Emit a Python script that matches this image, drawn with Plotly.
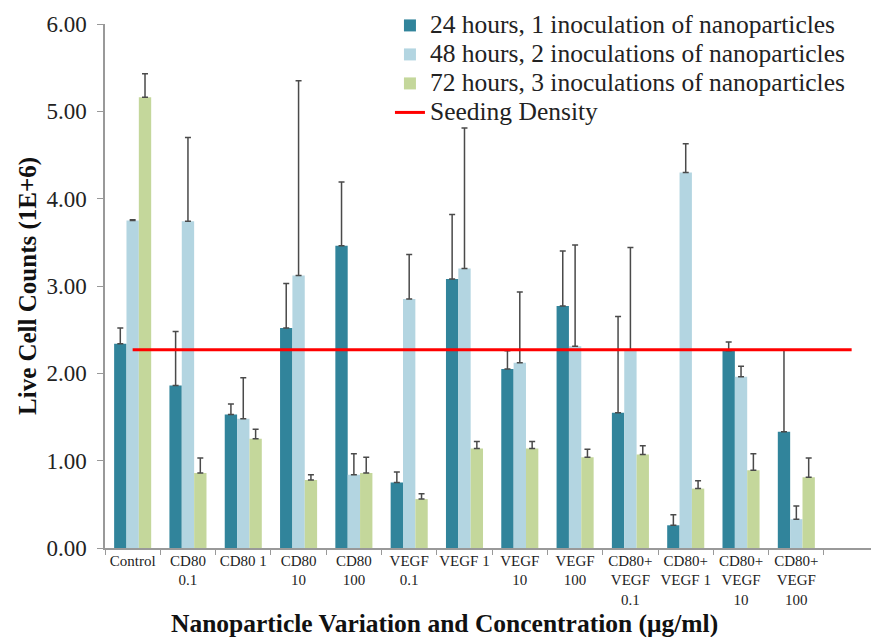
import plotly.graph_objects as go

categories = ["Control", "CD80<br>0.1", "CD80 1", "CD80<br>10", "CD80<br>100",
              "VEGF<br>0.1", "VEGF 1", "VEGF<br>10", "VEGF<br>100",
              "CD80+<br>VEGF<br>0.1", "CD80+<br>VEGF 1", "CD80+<br>VEGF<br>10",
              "CD80+<br>VEGF<br>100", " "]
bar_categories = categories[:13]

h24 = [2.34, 1.86, 1.53, 2.52, 3.46, 0.75, 3.08, 2.05, 2.77, 1.55, 0.26, 2.26, 1.33]
h24_err = [0.18, 0.62, 0.12, 0.51, 0.73, 0.12, 0.74, 0.21, 0.63, 1.10, 0.12, 0.10, 0.94]

h48 = [3.75, 3.74, 1.48, 3.12, 0.84, 2.85, 3.20, 2.12, 2.31, 2.27, 4.30, 1.96, 0.33]
h48_err = [0.01, 0.96, 0.47, 2.23, 0.24, 0.51, 1.61, 0.81, 1.16, 1.17, 0.33, 0.12, 0.15]

h72 = [5.16, 0.86, 1.25, 0.78, 0.86, 0.56, 1.14, 1.14, 1.04, 1.07, 0.68, 0.89, 0.81]
h72_err = [0.27, 0.17, 0.11, 0.06, 0.18, 0.06, 0.08, 0.08, 0.09, 0.10, 0.09, 0.19, 0.22]

seeding = [2.27] * len(categories)

names = ["24 hours, 1 inoculation of nanoparticles",
         "48 hours, 2 inoculations of nanoparticles",
         "72 hours, 3 inoculations of nanoparticles",
         "Seeding Density"]
colors = ["#31849B", "#B3D5E1", "#C4D79B"]

FONT = "Liberation Serif, Times New Roman, serif"


def big(t):
    return '<span style="font-size:25.5px">' + t + '</span>'


fig = go.Figure()
for vals, errs, name, col in zip([h24, h48, h72], [h24_err, h48_err, h72_err], names[:3], colors):
    fig.add_trace(go.Bar(
        x=bar_categories, y=vals, name=big(name), marker=dict(color=col, line=dict(width=0)),
        error_y=dict(type="data", array=errs, arrayminus=[0] * len(errs), symmetric=False,
                     color="#4a4a4a", thickness=1.5, width=3),
    ))
fig.add_trace(go.Scatter(x=categories, y=seeding, mode="lines", name=big(names[3]),
                         line=dict(color="#FF0000", width=3)))

fig.update_layout(
    width=871, height=637,
    margin=dict(l=105, r=0, t=24, b=89),
    paper_bgcolor="white", plot_bgcolor="white",
    barmode="group", bargap=0.33, bargroupgap=0,
    font=dict(family=FONT, color="#222"),
    showlegend=True,
    legend=dict(x=0.372, y=1.0345, xanchor="left", yanchor="top",
                font=dict(family=FONT, size=20, color="#222"),
                bgcolor="rgba(0,0,0,0)", tracegroupgap=0, itemwidth=30),
    xaxis=dict(type="category", categoryorder="array", categoryarray=categories,
               range=[-0.5, 13.35], tickson="boundaries", ticks="outside", ticklen=5,
               tickangle=0, ticklabelstandoff=-2,
               tickcolor="#999", showline=True, linecolor="#999", linewidth=1.5,
               showgrid=False, tickfont=dict(family=FONT, size=15, color="#222")),
    yaxis=dict(range=[0, 6], tickvals=[0, 1, 2, 3, 4, 5, 6], tickformat=".2f",
               ticks="outside", ticklen=6, tickcolor="#999", showline=True,
               linecolor="#999", linewidth=1.5, showgrid=False, zeroline=False,
               ticklabelstandoff=6,
               tickfont=dict(family=FONT, size=23, color="#222"),
               title=dict(text="<b>Live Cell Counts (1E+6)</b>",
                          font=dict(family=FONT, size=25, color="#111"), standoff=3)),
    annotations=[dict(text="<b>Nanoparticle Variation and Concentration (μg/ml)</b>",
                      xref="paper", yref="paper", x=0.4426, y=-0.145,
                      xanchor="center", yanchor="middle", showarrow=False,
                      font=dict(family=FONT, size=25.5, color="#111"))],
)

fig.write_html("out.html")
